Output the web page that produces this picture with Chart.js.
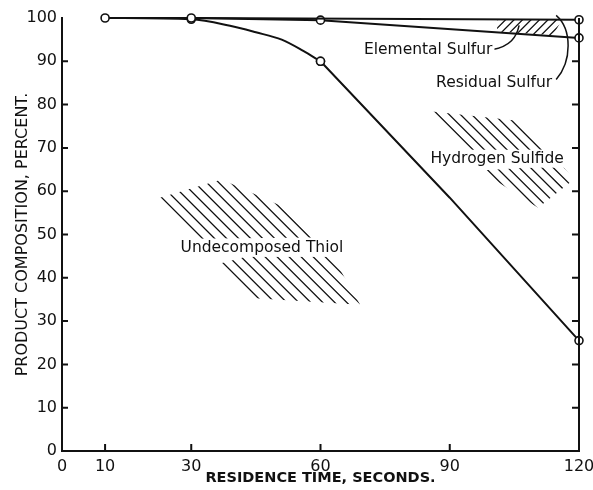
<!DOCTYPE html>
<html><head><meta charset="utf-8">
<script src="https://cdn.jsdelivr.net/npm/chart.js@4.4.1/dist/chart.umd.min.js"></script>
<style>html,body{margin:0;padding:0;background:#fff}#wrap{width:593px;height:490px;position:relative}</style>
</head><body><div id="wrap"><canvas id="c"></canvas></div>
<script>
// ---- data ----
const xTickValues = [0, 10, 30, 60, 90, 120];
const yTickValues = [0, 10, 20, 30, 40, 50, 60, 70, 80, 90, 100];

const topX = [10, 30, 120];
const topY = [100, 100, 99.6];

const residX = [30, 60, 120];
const residY = [100, 99.5, 95.4];

// undecomposed thiol: curved early part and straight late part
const thiolEarlyX = [10, 30, 39, 45, 51, 56, 60];
const thiolEarlyY = [100, 99.7, 98.2, 96.7, 95.0, 92.4, 90];
const thiolLateX = [60, 90, 120];
const thiolLateY = [90, 58.5, 25.5];
const thiolMarkedX = [30, 60, 120];

const xTitle = 'RESIDENCE TIME, SECONDS.';
const yTitle = 'PRODUCT COMPOSITION, PERCENT.';

// ---- annotations (data units) ----
const labels = [
  {text: 'Elemental Sulfur', x: 85.0, y: 92.7},
  {text: 'Residual Sulfur', x: 100.3, y: 85.1},
  {text: 'Hydrogen Sulfide', x: 101.0, y: 67.5},
  {text: 'Undecomposed Thiol', x: 46.4, y: 46.9}
];
const hatches = [
  {dir: 'back', gap: 8.5, poly: [[22.1,58.3],[37.1,62.7],[51.3,56.4],[58.0,49.3],[31.1,49.0]]},
  {dir: 'back', gap: 8.5, poly: [[36.7,43.3],[43.6,45.1],[62.7,45.1],[69.2,33.8],[44.8,35.3]]},
  {dir: 'back', gap: 8.0, poly: [[85.9,78.4],[105.2,76.3],[112.8,69.6],[93.5,69.4]]},
  {dir: 'back', gap: 8.0, poly: [[97.0,64.8],[116.1,65.9],[118.8,62.7],[110.5,56.2]]},
  {dir: 'fwd', gap: 6.0, poly: [[101,99.6],[116,99.6],[114,96.0],[101,96.9]]}
];
const leaders = [
  [[100.0,92.7],[104.0,93.5],[105.5,95.5],[106.1,98.3]],
  [[114.7,85.8],[118.4,90.0],[118.4,97.4],[114.7,100.6]]
];

const pts = (xs, ys) => xs.map((x, i) => ({x, y: ys[i]}));
const ink = '#111';

const baseDs = {
  borderColor: ink, borderWidth: 2, tension: 0, fill: false, clip: false,
  pointBackgroundColor: '#fff', pointBorderColor: ink, pointBorderWidth: 1.6,
  pointRadius: 4, pointHoverRadius: 4
};
const markIf = list => ctx => (ctx.raw && list.includes(ctx.raw.x)) ? 4 : 0;

const decor = {
  id: 'decor',
  beforeDatasetsDraw(chart) {
    const ctx = chart.ctx, sx = chart.scales.x, sy = chart.scales.y;
    hatches.forEach(h => {
      const p = h.poly.map(q => [sx.getPixelForValue(q[0]), sy.getPixelForValue(q[1])]);
      const xs = p.map(q => q[0]), ys = p.map(q => q[1]);
      const minx = Math.min(...xs), maxx = Math.max(...xs), miny = Math.min(...ys), maxy = Math.max(...ys);
      ctx.save();
      ctx.beginPath();
      p.forEach((q, i) => i ? ctx.lineTo(q[0], q[1]) : ctx.moveTo(q[0], q[1]));
      ctx.closePath();
      ctx.clip();
      ctx.strokeStyle = ink; ctx.lineWidth = 1.3;
      ctx.beginPath();
      const step = h.gap * Math.SQRT2;
      if (h.dir === 'back') {
        for (let c = miny - maxx; c <= maxy - minx; c += step) {
          ctx.moveTo(minx - 5, minx - 5 + c); ctx.lineTo(maxx + 5, maxx + 5 + c);
        }
      } else {
        for (let c = minx + miny; c <= maxx + maxy; c += step) {
          ctx.moveTo(minx - 5, c - minx + 5); ctx.lineTo(maxx + 5, c - maxx - 5);
        }
      }
      ctx.stroke();
      ctx.restore();
    });
  },
  afterDraw(chart) {
    const ctx = chart.ctx, sx = chart.scales.x, sy = chart.scales.y, a = chart.chartArea;
    ctx.save();
    ctx.strokeStyle = ink; ctx.lineWidth = 2;
    // right axis
    ctx.beginPath(); ctx.moveTo(a.right, a.top); ctx.lineTo(a.right, a.bottom + 1); ctx.stroke();
    ctx.beginPath();
    yTickValues.forEach(v => {
      if (v === 0 || v === 100) return;
      const y = sy.getPixelForValue(v);
      ctx.moveTo(a.right - 7, y); ctx.lineTo(a.right, y);
      ctx.moveTo(a.left, y); ctx.lineTo(a.left + 6, y);
    });
    // bottom inward ticks
    xTickValues.forEach(v => {
      if (v === 0 || v === 120) return;
      const x = sx.getPixelForValue(v);
      ctx.moveTo(x, a.bottom); ctx.lineTo(x, a.bottom - 7);
    });
    ctx.stroke();
    // leaders
    ctx.lineWidth = 1.5;
    leaders.forEach(L => {
      const q = L.map(p => [sx.getPixelForValue(p[0]), sy.getPixelForValue(p[1])]);
      ctx.beginPath(); ctx.moveTo(q[0][0], q[0][1]);
      ctx.bezierCurveTo(q[1][0], q[1][1], q[2][0], q[2][1], q[3][0], q[3][1]);
      ctx.stroke();
    });
    // labels
    ctx.font = '15.5px "DejaVu Sans"';
    ctx.textAlign = 'center'; ctx.textBaseline = 'middle';
    labels.forEach(l => {
      const x = sx.getPixelForValue(l.x), y = sy.getPixelForValue(l.y);
      const w = ctx.measureText(l.text).width;
      ctx.fillStyle = '#fff'; ctx.fillRect(x - w / 2 - 2, y - 9, w + 4, 18);
      ctx.fillStyle = ink; ctx.fillText(l.text, x, y);
    });
    ctx.restore();
  }
};

new Chart(document.getElementById('c'), {
  type: 'line',
  data: {
    datasets: [
      Object.assign({}, baseDs, {label: 'Total', data: pts(topX, topY)}),
      Object.assign({}, baseDs, {label: 'Residual', data: pts(residX, residY),
        pointRadius: markIf([60, 120])}),
      Object.assign({}, baseDs, {label: 'Thiol', data: pts(thiolEarlyX, thiolEarlyY),
        cubicInterpolationMode: 'monotone', pointRadius: markIf(thiolMarkedX)}),
      Object.assign({}, baseDs, {label: 'Thiol late', data: pts(thiolLateX, thiolLateY),
        pointRadius: markIf(thiolMarkedX)})
    ]
  },
  options: {
    responsive: true, maintainAspectRatio: false, animation: false,
    layout: {padding: {left: 0, right: 14, top: 18, bottom: 0}},
    plugins: {legend: {display: false}, tooltip: {enabled: false}},
    scales: {
      x: {
        type: 'linear', min: 0, max: 120,
        afterBuildTicks: s => { s.ticks = xTickValues.map(v => ({value: v})); },
        afterFit: s => { s.height = 39; s.paddingRight = 0; s.paddingLeft = 0; },
        grid: {display: true, drawOnChartArea: false, drawTicks: false},
        border: {display: true, width: 2, color: ink},
        ticks: {color: ink, padding: 6, maxRotation: 0, autoSkip: false,
          font: {family: 'DejaVu Sans', size: 16}},
        title: {display: true, text: xTitle, color: ink, padding: {top: 0, bottom: 3},
          font: {family: 'DejaVu Sans', size: 14.5, weight: 'bold'}}
      },
      y: {
        type: 'linear', min: 0, max: 100,
        afterBuildTicks: s => { s.ticks = yTickValues.map(v => ({value: v})); },
        afterFit: s => { s.width = 62; s.paddingTop = 0; s.paddingBottom = 0; },
        grid: {display: true, drawOnChartArea: false, drawTicks: false},
        border: {display: true, width: 2, color: ink},
        ticks: {color: ink, padding: 5, font: {family: 'DejaVu Sans', size: 16}},
        title: {display: true, text: yTitle, color: ink, padding: {top: 13, bottom: 0},
          font: {family: 'DejaVu Sans', size: 16}}
      }
    }
  },
  plugins: [decor]
});
</script>
</body></html>
